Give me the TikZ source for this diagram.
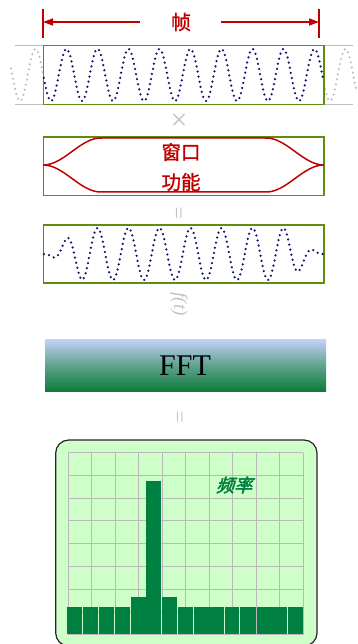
\documentclass[tikz,border=0pt]{standalone}
\usepackage{fontspec}
\setmainfont{Liberation Serif}
\newfontfamily\cjk[FakeBold=1.2]{Noto Sans CJK SC}
\newfontfamily\cjkbi[FakeSlant=0.3,FakeBold=2.5]{Noto Sans CJK SC}
\usetikzlibrary{arrows.meta}
\definecolor{framered}{RGB}{192,0,0}
\definecolor{boxgreen}{RGB}{96,140,16}
\definecolor{navydot}{RGB}{20,20,110}
\definecolor{greydot}{RGB}{185,185,185}
\definecolor{greyline}{RGB}{190,190,190}
\definecolor{signgrey}{RGB}{195,195,195}
\definecolor{dispbg}{RGB}{206,255,200}
\definecolor{bargreen}{RGB}{0,128,64}
\definecolor{gridc}{RGB}{185,185,185}
\definecolor{ffttop}{RGB}{197,211,248}
\definecolor{fftbot}{RGB}{14,124,58}
\tikzset{
  sigbox/.style={draw=boxgreen, line width=1.9pt},
  frametick/.style={framered, line width=1.5pt},
  framearrow/.style={framered, line width=1.5pt, -{Triangle[length=10pt,width=7pt]}},
  navydots/.style={draw=navydot, line width=2.5pt, line cap=round, dash pattern=on 0pt off 5.2pt},
  greydots/.style={draw=greydot, line width=2.3pt, line cap=round, dash pattern=on 0pt off 5.2pt},
  opsign/.style={signgrey, font=\fontsize{22}{22}\selectfont, inner sep=0pt},
  bar/.style={fill=bargreen, draw=none},
  gridline/.style={draw=gridc, line width=1pt},
  declare function={
    ph(\t)=11.6129*(\t-51);
    win(\t)=(\t<85)*(1-cos(4.2857*(\t-43)))/2 + (\t>=85)*(\t<=282) + (\t>282)*(1-cos(4.2857*(324-\t)))/2;
    rwin(\t)=(\t<101)*(1-cos(3.1034*(\t-43)))/2 + (\t>=101)*(\t<=266) + (\t>266)*(1-cos(3.1034*(324-\t)))/2;
  }
}
\begin{document}
\begin{tikzpicture}[x=1pt,y=-1pt]
\useasboundingbox (0,0) rectangle (357,644);

% ---- frame dimension arrow ----
\node[framered, font=\cjk\fontsize{20}{20}\selectfont, inner sep=0pt] (frameLabel) at (181,22) {帧};
\coordinate (tickL) at (43,22);
\coordinate (tickR) at (319,22);
\coordinate (arrL) at (140,22);
\coordinate (arrR) at (221,22);
\draw[frametick] (43,9.5) -- (43,38);
\draw[frametick] (319,9) -- (319,38);
\draw[framearrow] (arrL) -- (tickL);
\draw[framearrow] (arrR) -- (tickR);

% ---- signal 1 ----
\draw[greyline, line width=1.5pt] (15,45.5) -- (353,45.5);
\draw[greyline, line width=1.5pt] (15,104.5) -- (353,104.5);
\draw[greydots] plot[smooth, domain=11:43, samples=40] (\x,{75+26*cos(ph(\x))});
\draw[greydots] plot[smooth, domain=324:356, samples=40] (\x,{75+26*cos(ph(\x))});
\draw[sigbox] (43.5,45.5) rectangle (324,104.5);
\draw[navydots] plot[smooth, domain=43.8:323.5, samples=320] (\x,{75+26*cos(ph(\x))});

\node[opsign, font=\fontsize{30}{30}\selectfont, rotate=90] (crossSign) at (181,120) {×};

% ---- window function ----
\draw[sigbox] (43.5,137) rectangle (324,195.5);
\draw[framered, line width=1.5pt] plot[smooth, domain=43.5:323.5, samples=120] (\x,{165-27*rwin(\x)});
\draw[framered, line width=1.5pt] plot[smooth, domain=43.5:323.5, samples=120] (\x,{165+27*rwin(\x)});
\node[framered, font=\cjk\fontsize{19.5}{30}\selectfont, align=center, inner sep=0pt] (windowLabel) at (181,167) {窗口\\功能};

\node[opsign, rotate=90] (eqSignA) at (181,213) {=};

% ---- windowed signal ----
\draw[sigbox] (43.5,225) rectangle (324,283);
\draw[navydots] plot[smooth, domain=44:323, samples=320] (\x,{254+26*win(\x)*cos(ph(\x))});

\node[signgrey, rotate=-90, font=\itshape\fontsize{19}{19}\selectfont, inner sep=0pt] (ftLabel) at (179,304) {f(t)};

% ---- FFT ----
\shade[top color=ffttop, bottom color=fftbot, middle color=ffttop!45!fftbot] (45,339) rectangle (326,391);
\node[font=\fontsize{30}{30}\selectfont, inner sep=0pt] (fftBox) at (185,366) {FFT};

\node[opsign, rotate=90] (eqSignB) at (182,417) {=};

% ---- spectrum display ----
\draw[rounded corners=13pt, fill=dispbg, draw=black!85, line width=1.2pt] (55.7,440) rectangle (317,646);
\foreach \i in {0,...,10} {
  \draw[gridline] ({68.3+23.5*\i},452.7) -- ({68.3+23.5*\i},634.5);
}
\foreach \j in {0,...,8} {
  \draw[gridline] (68.3,{452.7+22.75*\j}) -- (303.3,{452.7+22.75*\j});
}
\foreach \a/\b/\t in {66.7/82/606.7, 82.7/98/606.7, 98.7/114/606.7, 114.7/130/606.7,
                      131/146.3/597.3, 146/161.3/481, 162/176.7/597.3, 177.7/192.7/606.7,
                      193.7/224/606.7, 224.7/239.3/606.7, 240.3/256/606.7, 256.7/286.7/606.7,
                      287.7/303/606.7} {
  \fill[bar] (\a,\t) rectangle (\b,634.3);
}
\node[bargreen, font=\cjkbi\fontsize{18}{18}\selectfont, inner sep=0pt] (freqLabel) at (234,485) {频率};
\end{tikzpicture}
\end{document}
